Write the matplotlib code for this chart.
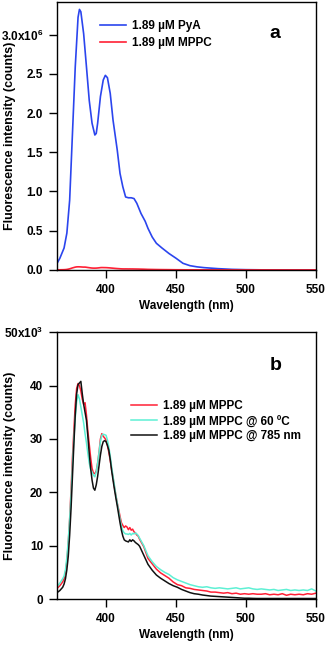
import numpy as np
import matplotlib
matplotlib.use('Agg')
import matplotlib.pyplot as plt
from matplotlib.ticker import FuncFormatter

plt.rcParams['font.family'] = ['Liberation Sans', 'DejaVu Sans']
plt.rcParams['font.weight'] = 'bold'
plt.rcParams['mathtext.fontset'] = 'custom'
plt.rcParams['mathtext.bf'] = 'Liberation Sans:bold'
plt.rcParams['mathtext.rm'] = 'Liberation Sans:bold'

# panel a: pyrene acid (PyA), counts x1e6
wl_pya = [365, 367, 370, 372, 374, 376, 378, 380, 381, 382, 384, 386, 388, 390,
          392, 393, 394, 396, 398, 399.5, 401, 403, 405, 408, 410, 412, 414, 416,
          418, 420, 422, 425, 428, 430, 433, 436, 440, 445, 450, 455, 460, 465,
          470, 480, 490, 500, 515, 530, 550]
pya = [0.085, 0.15, 0.28, 0.47, 0.89, 1.74, 2.59, 3.22, 3.32, 3.29, 3.01, 2.59,
       2.16, 1.87, 1.72, 1.74, 1.87, 2.21, 2.42, 2.48, 2.45, 2.25, 1.91, 1.53,
       1.23, 1.06, 0.93, 0.92, 0.92, 0.91, 0.85, 0.72, 0.62, 0.53, 0.42, 0.34,
       0.28, 0.21, 0.15, 0.085, 0.055, 0.04, 0.03, 0.017, 0.008, 0.004, 0.001,
       0.0, 0.0]

# panel b: MPPC spectra, counts x1e3
wl = [365, 367, 369] + list(range(370, 425)) + list(range(427, 550, 3)) + [550]
mppc = [2.0, 2.5, 3.2,
        3.8, 5.0, 7.0, 10.5, 15.0, 20.5, 26.5, 31.5, 36.5, 39.5,
        40.4, 40.0, 39.0, 37.5, 36.5, 36.8, 34.5, 31.5, 29.0, 26.5,
        24.5, 23.6, 23.5, 24.0, 25.5, 27.5, 30.0, 31.0, 30.5, 30.2,
        29.8, 28.8, 27.5, 26.0, 24.3, 22.8, 21.0, 19.5, 18.0, 16.8,
        15.5, 14.3, 13.8, 13.4, 13.7, 13.5, 13.0, 13.4, 12.9, 13.1,
        12.6, 12.4, 12.0, 11.8, 11.2,
        9.8, 7.6, 6.6, 5.6, 4.9, 4.4, 3.9, 3.2, 2.7, 2.5, 2.1, 2.0, 1.8,
        1.7, 1.6, 1.5, 1.3, 1.3, 1.2, 1.1, 1.2, 1.0, 1.1, 0.9, 1.0, 0.9,
        1.0, 0.9, 0.9, 1.0, 0.8, 0.9, 0.8, 1.0, 0.7, 0.9, 0.8, 0.9, 0.8,
        1.0, 0.9, 1.1]
mppc_60c = [2.3, 3.0, 3.8,
            4.3, 5.5, 7.8, 11.0, 15.0, 19.5, 25.0, 30.0, 34.0, 37.0,
            38.3, 37.5, 36.0, 34.5, 33.0, 31.0, 29.3, 27.3, 25.5, 24.3,
            23.8, 23.2, 22.9, 23.8, 25.5, 27.5, 29.5, 30.7, 30.9, 30.8,
            30.7, 29.8, 28.5, 26.8, 24.8, 23.0, 21.3, 19.5, 18.0, 16.5,
            15.0, 13.7, 12.8, 12.4, 12.2, 12.2, 12.1, 12.3, 12.0, 12.3,
            12.2, 12.4, 12.2, 11.9, 11.4,
            10.0, 8.1, 7.0, 6.1, 5.5, 5.0, 4.6, 4.0, 3.6, 3.3, 3.0, 2.7, 2.5,
            2.3, 2.2, 2.3, 2.1, 2.0, 2.1, 2.0, 1.9, 2.0, 2.1, 1.9, 2.0, 2.1,
            1.9, 1.8, 1.9, 1.8, 1.7, 1.8, 1.6, 1.7, 1.8, 1.6, 1.7, 1.6, 1.7,
            1.6, 1.9, 1.5]
mppc_785 = [1.2, 1.6, 2.2,
            2.8, 3.8, 5.5, 8.0, 12.0, 17.0, 23.0, 29.0, 34.5, 38.5,
            40.2, 40.5, 40.8, 38.5, 36.5, 35.0, 33.5, 30.5, 27.3, 24.5,
            22.3, 20.8, 20.4, 21.4, 23.0, 25.0, 27.0, 28.6, 29.5, 29.7,
            29.5, 28.8, 27.9, 26.2, 24.1, 22.3, 20.6, 19.0, 17.5, 15.9,
            14.3, 12.9, 11.8, 11.1, 10.9, 10.8, 10.7, 11.1, 10.8, 11.1,
            10.9, 10.6, 10.4, 10.2, 9.9,
            8.2, 6.5, 5.4, 4.5, 3.9, 3.4, 2.9, 2.5, 2.2, 1.8, 1.5, 1.2, 1.0,
            0.9, 0.75, 0.65, 0.55, 0.5, 0.45, 0.4, 0.35, 0.3, 0.25, 0.2, 0.15,
            0.15, 0.12, 0.1, 0.1, 0.1, 0.1, 0.1, 0.1, 0.1, 0.1, 0.1, 0.1, 0.1,
            0.1, 0.1, 0.1, 0.1]

blue = '#2b45ee'
red = '#ff2035'
cyan = '#5ef0d4'

fig = plt.figure(figsize=(3.28, 6.49), dpi=100)
ax1 = fig.add_axes([0.174, 0.584, 0.789, 0.413])
ax2 = fig.add_axes([0.174, 0.077, 0.789, 0.411])

ax1.plot(wl_pya, np.array(pya) * 1e6, color=blue, lw=1.2, label='1.89 µM PyA')
ax1.plot(wl, np.array(mppc) * 1e3, color=red, lw=1.2, label='1.89 µM MPPC')
ax1.set_xlim(365, 550)
ax1.set_ylim(0, 3.415e6)
ax1.set_yticks(np.arange(0, 3.01e6, 0.5e6))


def fmt_a(v, pos):
    if abs(v - 3.0e6) < 1:
        return r'3.0x10$^{\mathbf{6}}$'
    return '%.1f' % (v / 1e6)


ax1.yaxis.set_major_formatter(FuncFormatter(fmt_a))
ax1.legend(loc='upper left', bbox_to_anchor=(0.166, 0.934), frameon=False,
           fontsize=8.5, handlelength=2.2, handletextpad=0.5, labelspacing=0.45,
           borderpad=0, borderaxespad=0)
ax1.text(0.82, 0.865, 'a', transform=ax1.transAxes, fontsize=14, fontweight='bold')

ax2.plot(wl, np.array(mppc) * 1e3, color=red, lw=1.1, label='1.89 µM MPPC')
ax2.plot(wl, np.array(mppc_60c) * 1e3, color=cyan, lw=1.1, label='1.89 µM MPPC @ 60 ºC')
ax2.plot(wl, np.array(mppc_785) * 1e3, color='#111111', lw=1.1, label='1.89 µM MPPC @ 785 nm')
ax2.set_xlim(365, 550)
ax2.set_ylim(0, 50e3)
ax2.set_yticks(np.arange(0, 50.1e3, 10e3))


def fmt_b(v, pos):
    if abs(v - 50e3) < 1:
        return r'50x10$^{\mathbf{3}}$'
    return '%d' % round(v / 1e3)


ax2.yaxis.set_major_formatter(FuncFormatter(fmt_b))
ax2.legend(loc='upper left', bbox_to_anchor=(0.285, 0.745), frameon=False,
           fontsize=8.5, handlelength=2.2, handletextpad=0.5, labelspacing=0.2,
           borderpad=0, borderaxespad=0)
ax2.text(0.82, 0.86, 'b', transform=ax2.transAxes, fontsize=14, fontweight='bold')

for ax in (ax1, ax2):
    ax.set_xticks([400, 450, 500, 550])
    ax.tick_params(direction='out', length=6, width=1, labelsize=8.5, pad=4)
    for s in ax.spines.values():
        s.set_linewidth(1)
    ax.set_xlabel('Wavelength (nm)', fontsize=8.5, fontweight='bold', labelpad=3)
    ax.set_ylabel('Fluorescence intensity (counts)', fontsize=9,
                  fontweight='bold')
    ax.yaxis.set_label_coords(-0.16, 0.5)

fig.savefig('out.png', dpi=100)
